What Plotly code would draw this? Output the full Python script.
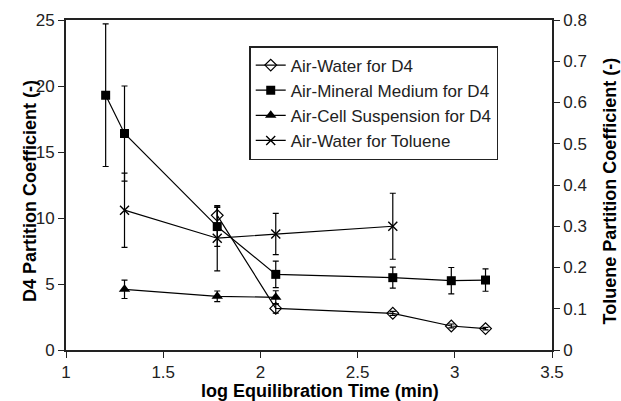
import plotly.graph_objects as go

# log equilibration time (min)
x_water = [1.778, 2.079, 2.681, 2.982, 3.158]
y_water = [10.2, 3.15, 2.78, 1.82, 1.62]
e_water = [0.6, 0.35, 0.15, 0.15, 0.1]

x_mineral = [1.204, 1.301, 1.778, 2.079, 2.681, 2.982, 3.158]
y_mineral = [19.3, 16.4, 9.35, 5.73, 5.48, 5.25, 5.3]
e_mineral = [5.4, 3.6, 1.5, 1.0, 0.8, 1.0, 0.85]

x_cell = [1.301, 1.778, 2.079]
y_cell = [4.6, 4.07, 3.99]
e_cell = [0.7, 0.4, 0.5]

x_tol = [1.301, 1.778, 2.079, 2.681]
y_tol = [0.339, 0.271, 0.281, 0.300]
e_tol = [0.09, 0.079, 0.05, 0.08]

names = ["Air-Water for D4", "Air-Mineral Medium for D4",
         "Air-Cell Suspension for D4", "Air-Water for Toluene"]
x_title = "log Equilibration Time (min)"
y_title = "D4 Partition Coefficient (-)"
y2_title = "Toluene Partition Coefficient (-)"

FONT = "Liberation Sans, Arial, sans-serif"
black = "black"

def err(arr):
    return dict(type="data", array=arr, visible=True, color=black,
                thickness=1.2, width=3)

fig = go.Figure()
fig.add_trace(go.Scatter(
    x=x_water, y=y_water, name=names[0], mode="lines+markers",
    line=dict(color=black, width=1.2),
    marker=dict(symbol="diamond-open", size=9, color=black,
                line=dict(width=1.2, color=black)),
    error_y=err(e_water), legendgroup="a"))
fig.add_trace(go.Scatter(
    x=x_mineral, y=y_mineral, name=names[1], mode="lines+markers",
    line=dict(color=black, width=1.2),
    marker=dict(symbol="square", size=9, color=black),
    error_y=err(e_mineral), legendgroup="b"))
fig.add_trace(go.Scatter(
    x=x_cell, y=y_cell, name=names[2], mode="lines+markers",
    line=dict(color=black, width=1.2),
    marker=dict(symbol="triangle-up", size=10, color=black),
    error_y=err(e_cell), legendgroup="c"))
fig.add_trace(go.Scatter(
    x=x_tol, y=y_tol, name=names[3], mode="lines+markers", yaxis="y2",
    line=dict(color=black, width=1.2),
    marker=dict(symbol="x-thin-open", size=9, color=black,
                line=dict(width=1.4, color=black)),
    error_y=err(e_tol), legendgroup="d"))

axis_common = dict(showline=True, linecolor="#222", linewidth=1.8,
                   ticks="outside", ticklen=6, tickcolor="#222", tickwidth=1.2,
                   showgrid=False, zeroline=False, automargin=False,
                   tickfont=dict(family=FONT, size=17, color="#222"))

title_font = dict(family=FONT, size=18, color="black")

fig.update_layout(
    width=621, height=401,
    margin=dict(l=66, r=69, t=20, b=51, autoexpand=False),
    paper_bgcolor="white", plot_bgcolor="white",
    font=dict(family=FONT, color="black"),
    showlegend=True,
    legend=dict(x=0.377, y=0.921, xanchor="left", yanchor="top",
                bordercolor="#222", borderwidth=1.5, bgcolor="white",
                font=dict(family=FONT, size=17, color="#222"),
                itemwidth=30,
                tracegroupgap=0, traceorder="grouped"),
    xaxis=dict(range=[1, 3.5], dtick=0.5, tick0=1, mirror=True,
               **axis_common),
    yaxis=dict(range=[0, 25], dtick=5, **axis_common),
    yaxis2=dict(range=[0, 0.8], dtick=0.1, overlaying="y", side="right",
                **axis_common),
    annotations=[
        dict(text="<b>%s</b>" % x_title, xref="paper", yref="paper",
             x=0.523, y=-0.124, xanchor="center", yanchor="middle",
             showarrow=False, font=title_font),
        dict(text="<b>%s</b>" % y_title, xref="paper", yref="paper",
             x=-0.0741, y=0.482, xanchor="center", yanchor="middle",
             textangle=-90, showarrow=False, font=title_font),
        dict(text="<b>%s</b>" % y2_title, xref="paper", yref="paper",
             x=1.119, y=0.483, xanchor="center", yanchor="middle",
             textangle=-90, showarrow=False, font=title_font),
    ],
)

fig.write_html(
    "out.html",
    config={"displayModeBar": False},
    post_script="document.body.style.margin='0';"
                "document.body.style.overflow='hidden';")
